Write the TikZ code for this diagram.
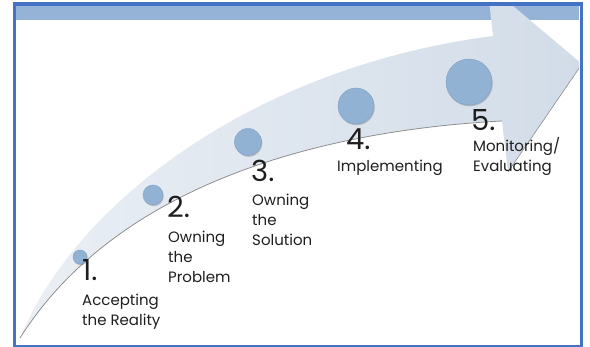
\documentclass[tikz,border=0pt]{standalone}
\usepackage{fontspec}
\setmainfont{Poppins}
\definecolor{frameblue}{HTML}{4472C4}
\definecolor{bandblue}{HTML}{95B3D7}
\definecolor{arrowL}{HTML}{EAEFF5}
\definecolor{arrowR}{HTML}{D2DCE8}
\definecolor{dotblue}{HTML}{92B2D4}
\definecolor{dotedge}{HTML}{7E9FC3}
\definecolor{edgegrey}{HTML}{8E8E8E}
\definecolor{txt}{HTML}{1E1E1E}
\tikzset{
  num/.style={font=\fontsize{29}{30}\selectfont, text=txt, anchor=base west, inner sep=0pt},
  lab/.style={font=\fontsize{15}{20}\selectfont, text=txt, anchor=base west, inner sep=0pt, align=left},
  dot/.style={circle, fill=dotblue, draw=dotedge, line width=0.4pt, inner sep=0pt},
  dotshadow/.style={circle, fill=black, opacity=0.18, inner sep=0pt},
  edgeline/.style={draw=edgegrey, line width=0.8pt}
}
\begin{document}
\begin{tikzpicture}[x=1pt,y=-1pt]
\useasboundingbox (0,0) rectangle (590,347);
% band
\fill[bandblue] (16,5.5) rectangle (579,20);
% arrow
\coordinate (tail) at (20,338);
\coordinate (ushaft) at (493,36);
\coordinate (hcornerA) at (489,0);
\coordinate (hcornerB) at (506,0);
\coordinate (tip) at (582,64);
\coordinate (barb) at (508,172);
\coordinate (junc) at (502,121);
\begin{scope}
\clip (16,5.5) rectangle (579,344.5);
\shade[left color=arrowL, right color=arrowR]
  (tail) .. controls (78,198) and (260,66) .. (ushaft)
  -- (hcornerA) -- (hcornerB) -- (tip) -- (barb) -- (junc)
  .. controls (330,130) and (120,180) .. (tail) -- cycle;
\draw[edgeline] (junc) .. controls (330,130) and (120,180) .. (tail);
\draw[edgeline, line width=0.6pt] (tip) -- (barb);
\end{scope}
% dots
\foreach \n/\x/\y/\r in {1/80/257/7,2/153/195/10,3/248/142/13.5,4/356/106/18,5/469/82/23}{
  \node[dotshadow, minimum size=2*\r pt] (s\n) at (\x+0.8,\y+1.3) {};
  \node[dot, minimum size=2*\r pt] (c\n) at (\x,\y) {};
}
% labels (base = last line)
\node[num] (n1) at (82,281) {1.};
\node[lab] (l1) at (82,326) {Accepting\\the Reality};
\node[num] (n2) at (167,218) {2.};
\node[lab] (l2) at (168,283) {Owning\\the\\Problem};
\node[num] (n3) at (251,182) {3.};
\node[lab] (l3) at (252,246) {Owning\\the\\Solution};
\node[num] (n4) at (346,150) {4.};
\node[lab] (l4) at (337,172) {Implementing};
\node[num] (n5) at (471,131) {5.};
\node[lab] (l5) at (473,172) {Monitoring/\\Evaluating};
% frame
\draw[frameblue, line width=3.6pt] (14.3,3.8) rectangle (581.6,346.5);
\end{tikzpicture}
\end{document}
